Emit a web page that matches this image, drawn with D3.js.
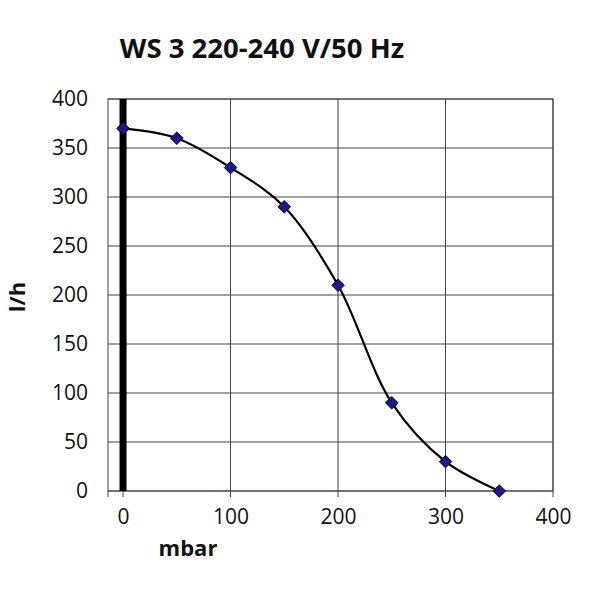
<!DOCTYPE html>
<html>
<head>
<meta charset="utf-8">
<script src="https://cdn.jsdelivr.net/npm/d3@7"></script>
<style>
  body { margin: 0; background: #fff; }
  svg { font-family: "Open Sans", sans-serif; }
</style>
</head>
<body>
<svg id="chart" width="589" height="589"></svg>
<script>
const pressure = [0, 50, 100, 150, 200, 250, 300, 350];      // mbar
const flow = [370, 360, 330, 290, 210, 90, 30, 0];           // l/h
const xTicks = [0, 100, 200, 300, 400];
const yTicks = [0, 50, 100, 150, 200, 250, 300, 350, 400];

const svg = d3.select("#chart");
const margin = { top: 99, right: 36, bottom: 98, left: 108 };
const width = +svg.attr("width") - margin.left - margin.right;
const height = +svg.attr("height") - margin.top - margin.bottom;

const x = d3.scaleLinear().domain([-14, 400]).range([0, width]);
const y = d3.scaleLinear().domain([0, 400]).range([height, 0]);

const g = svg.append("g").attr("transform", `translate(${margin.left},${margin.top})`);

// title
svg.append("text")
    .attr("x", 262).attr("y", 58)
    .attr("text-anchor", "middle")
    .style("font-size", "27.5px").style("font-weight", "bold")
    .attr("fill", "#111")
    .text("WS 3 220-240 V/50 Hz");

// grid
g.selectAll(".hgrid").data(yTicks).enter().append("line")
    .attr("x1", 0).attr("x2", width)
    .attr("y1", d => y(d)).attr("y2", d => y(d))
    .attr("stroke", "#444").attr("stroke-width", 1);
g.selectAll(".vgrid").data(xTicks).enter().append("line")
    .attr("x1", d => x(d)).attr("x2", d => x(d))
    .attr("y1", 0).attr("y2", height + 6)
    .attr("stroke", "#444").attr("stroke-width", 1);

// plot border
g.append("rect")
    .attr("width", width).attr("height", height)
    .attr("fill", "none").attr("stroke", "#444");
g.append("line")
    .attr("x1", 0).attr("x2", 0).attr("y1", height).attr("y2", height + 6)
    .attr("stroke", "#444");

// thick line at 0 mbar
g.append("line")
    .attr("x1", x(0)).attr("x2", x(0))
    .attr("y1", 0).attr("y2", height)
    .attr("stroke", "#000").attr("stroke-width", 7);

// axes labels
const yAxis = g.append("g").call(d3.axisLeft(y).tickValues(yTicks).tickSize(0).tickPadding(20));
const xAxis = g.append("g").attr("transform", `translate(0,${height})`)
    .call(d3.axisBottom(x).tickValues(xTicks).tickSize(0).tickPadding(18));
[yAxis, xAxis].forEach(a => {
    a.select(".domain").remove();
    a.selectAll("text").style("font-size", "21px").style("font-family", "Open Sans, sans-serif").attr("fill", "#111");
});

svg.append("text")
    .attr("transform", "translate(25,297) rotate(-90)")
    .attr("text-anchor", "middle")
    .style("font-size", "22px").style("font-weight", "bold")
    .attr("fill", "#111")
    .text("l/h");
svg.append("text")
    .attr("x", 188).attr("y", 556)
    .attr("text-anchor", "middle")
    .style("font-size", "22px").style("font-weight", "bold")
    .attr("fill", "#111")
    .text("mbar");

// curve
const data = pressure.map((p, i) => ({ p, q: flow[i] }));
const line = d3.line()
    .x(d => x(d.p)).y(d => y(d.q))
    .curve(d3.curveCatmullRom.alpha(0.5));
g.append("path").datum(data)
    .attr("d", line)
    .attr("fill", "none").attr("stroke", "#000").attr("stroke-width", 2.2);

// markers
g.selectAll(".pt").data(data).enter().append("path")
    .attr("d", d3.symbol().type(d3.symbolDiamond2).size(100))
    .attr("transform", d => `translate(${x(d.p)},${y(d.q)})`)
    .attr("fill", "#1a1a8c").attr("stroke", "#000").attr("stroke-width", 1);
</script>
</body>
</html>
